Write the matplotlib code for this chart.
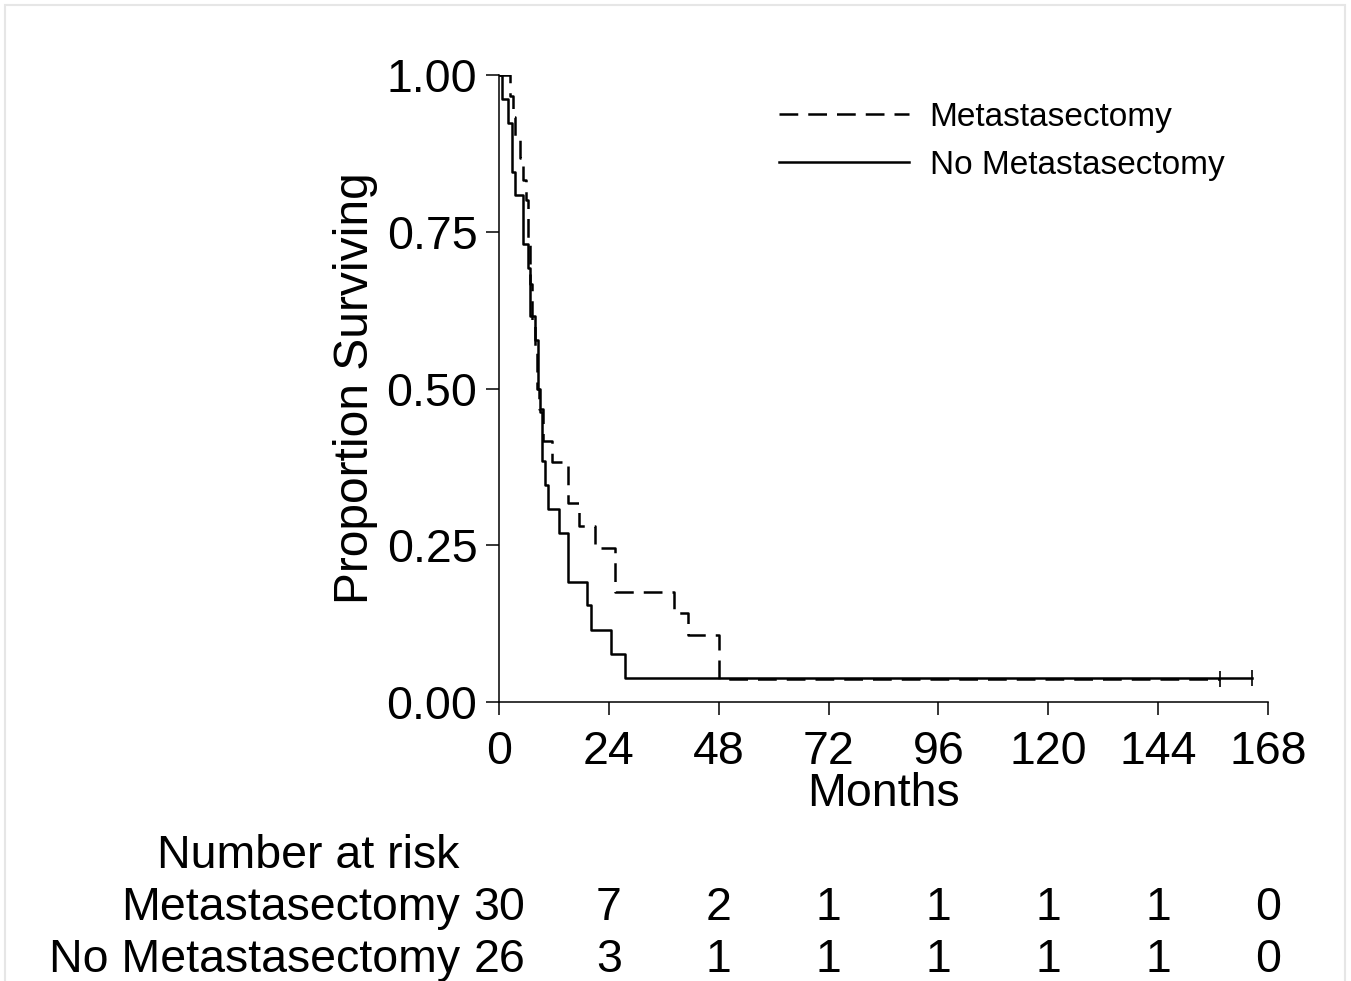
import matplotlib.pyplot as plt
from matplotlib.patches import Rectangle
import matplotlib.transforms as mtransforms

plt.rcParams['font.family'] = ['Liberation Sans', 'DejaVu Sans']

# Kaplan-Meier step data (months, proportion surviving)
meta_t = [0, 2.4, 3.0, 3.5, 4.5, 5.2, 5.8, 6.3, 6.8, 7.3, 7.8, 8.3, 8.8, 9.7, 11.5, 15.1, 17.5, 21.0, 25.3, 38.2, 41.2, 48.1, 157.5]
meta_s = [1.0, 0.967, 0.933, 0.9, 0.867, 0.833, 0.8, 0.733, 0.667, 0.6, 0.567, 0.5, 0.467, 0.417, 0.383, 0.317, 0.281, 0.245, 0.175, 0.142, 0.107, 0.036, 0.036]

nometa_t = [0, 0.6, 2.0, 2.8, 3.5, 5.3, 6.3, 6.8, 7.8, 8.5, 9.0, 9.3, 10.05, 10.8, 13.2, 15.1, 19.3, 20.1, 24.4, 27.5, 164.5]
nometa_s = [1.0, 0.962, 0.923, 0.846, 0.808, 0.731, 0.692, 0.615, 0.577, 0.5, 0.462, 0.385, 0.346, 0.308, 0.269, 0.192, 0.154, 0.115, 0.077, 0.038, 0.038]

xticks = [0, 24, 48, 72, 96, 120, 144, 168]
yticks = [0.0, 0.25, 0.5, 0.75, 1.0]
risk_meta = [30, 7, 2, 1, 1, 1, 1, 0]
risk_nometa = [26, 3, 1, 1, 1, 1, 1, 0]

W, H = 1351, 981
FS = 33.5
fig = plt.figure(figsize=(W / 100, H / 100), dpi=100)
ax = fig.add_axes([499 / W, 1 - 702 / H, (1268 - 499) / W, (702 - 75) / H])

ax.step(meta_t, meta_s, where='post', color='black', lw=1.8, ls=(0, (7.5, 4)), label='Metastasectomy')
ax.step(nometa_t, nometa_s, where='post', color='black', lw=1.8, label='No Metastasectomy')
# censor marks at the ends
ax.plot([meta_t[-1]], [meta_s[-1]], marker='|', ms=12, mew=1.2, color='black')
ax.plot([nometa_t[-1]], [nometa_s[-1]], marker='|', ms=12, mew=1.2, color='black')

ax.set_xlim(0, 168)
ax.set_ylim(0, 1.0)
ax.set_xticks(xticks)
ax.set_yticks(yticks)
ax.set_yticklabels(['%.2f' % v for v in yticks])
ax.tick_params(direction='out', length=9.5, width=1.1, labelsize=FS)
ax.tick_params(axis='x', pad=11)
ax.tick_params(axis='y', pad=6)
ax.spines['top'].set_visible(False)
ax.spines['right'].set_visible(False)
for sp in ['left', 'bottom']:
    ax.spines[sp].set_linewidth(1.1)
ax.set_xlabel('Months', fontsize=FS, labelpad=-2)
ax.set_ylabel('Proportion Surviving', fontsize=34.5, labelpad=6)

ax.legend(loc='upper left', bbox_to_anchor=(779 / W, 1 - 102 / H), bbox_transform=fig.transFigure,
          frameon=False, fontsize=24, handlelength=3.9, handletextpad=0.62, labelspacing=0.5,
          borderaxespad=0, borderpad=0)

# number at risk table
trans = mtransforms.blended_transform_factory(ax.transData, fig.transFigure)
fig.text(157 / W, 1 - 856 / H, 'Number at risk', fontsize=FS, ha='left', va='center')
rows = [('Metastasectomy', risk_meta, 908), ('No Metastasectomy', risk_nometa, 960)]
for name, vals, ypx in rows:
    fig.text(460 / W, 1 - ypx / H, name, fontsize=FS, ha='right', va='center')
    for xv, n in zip(xticks, vals):
        ax.text(xv, 1 - ypx / H, str(n), transform=trans, fontsize=FS, ha='center', va='center', clip_on=False)

# faint frame around the picture
fig.patches.append(Rectangle((5 / W, -0.01), (1345 - 5) / W, 1 - 5 / H + 0.01, transform=fig.transFigure,
                             fill=False, edgecolor='#e6e6e6', lw=1.5))

fig.savefig('out.png', dpi=100)
